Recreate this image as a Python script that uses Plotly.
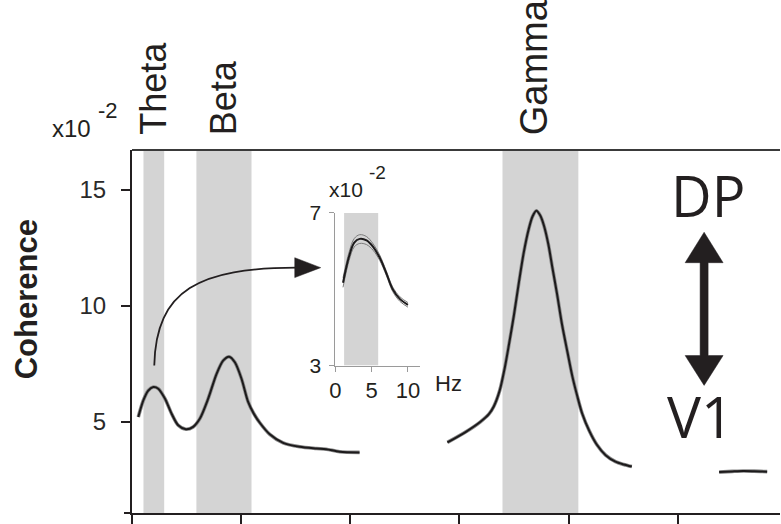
import plotly.graph_objects as go

# ---------------- data ----------------
# main coherence spectrum (x10^-2), three segments (line-noise bands removed)
seg1_hz = [1.15, 2.07, 2.98, 3.9, 4.81, 6.04, 7.26, 8.47, 9.88, 11.2, 12.44, 13.96, 15.5, 16.7,
           17.8, 18.85, 20.07, 21.28, 22.3, 23.42, 25.25, 27.7, 30.74, 33.8, 35.6, 38.06, 41.7]
seg1_coh = [5.2, 5.91, 6.34, 6.49, 6.42, 5.99, 5.34, 4.84, 4.67, 4.77, 5.13, 5.99, 7.06, 7.63,
            7.8, 7.56, 6.85, 5.85, 5.35, 4.95, 4.45, 4.08, 3.91, 3.84, 3.81, 3.70, 3.67]

seg2_hz = [57.8, 61.2, 63.8, 65.4, 66.3, 67.4, 68.3, 69.1, 70.0, 70.9, 71.8, 72.7, 73.4, 74.1,
           74.8, 75.5, 76.3, 77.0, 77.9, 78.8, 79.8, 80.7, 81.6, 82.5, 83.8, 85.2, 86.8, 88.6,
           90.1, 91.6]
seg2_coh = [4.10, 4.56, 4.98, 5.32, 5.65, 6.35, 7.30, 8.35, 9.60, 11.00, 12.30, 13.30, 13.85,
            14.10, 13.90, 13.45, 12.65, 11.70, 10.50, 9.20, 8.00, 6.95, 6.10, 5.35, 4.60, 4.00,
            3.55, 3.27, 3.15, 3.06]

seg3_hz = [107.6, 110.0, 112.0, 114.0, 116.4]
seg3_coh = [2.82, 2.85, 2.87, 2.86, 2.84]

# frequency bands (Hz)
band_names = ["Theta", "Beta", "Gamma"]
band_lo = [2.1, 11.8, 67.9]
band_hi = [5.9, 21.9, 81.8]
band_label_hz = [3.9, 16.8, 73.7]
band_label_size = [36, 36, 38]

# inset (theta zoom)
inset_hz = [1.05, 1.9, 2.6, 3.35, 4.3, 5.2, 6.1, 7.0, 7.9, 8.9, 10.0]
inset_mean = [5.17, 5.87, 6.22, 6.32, 6.28, 6.11, 5.83, 5.43, 5.00, 4.74, 4.59]
inset_upper = [5.30, 5.98, 6.33, 6.43, 6.38, 6.19, 5.90, 5.49, 5.06, 4.80, 4.65]
inset_lower = [5.05, 5.76, 6.11, 6.20, 6.17, 6.02, 5.76, 5.37, 4.94, 4.68, 4.53]
inset_band = [1.2, 5.9]

x_ticks = [0, 20, 40, 60, 80, 100]
y_ticks = [5, 10, 15]
inset_x_ticks = [0, 5, 10]
inset_y_ticks = [3, 7]

# ---------------- layout helpers ----------------
W, H = 781, 524
L, R, T, B = 132, 0, 150, 9
PW, PH = W - L - R, H - T - B
BOT = H - B


def px(x):
    return (x - L) / PW


def py(y):
    return (BOT - y) / PH


DARK = "#231f20"
FONT = "Liberation Sans, Arial, sans-serif"

fig = go.Figure()

# main curve: soft grey underlay + dark line
for hz, coh in [(seg1_hz, seg1_coh), (seg2_hz, seg2_coh), (seg3_hz, seg3_coh)]:
    fig.add_trace(go.Scatter(x=hz, y=coh, mode="lines", line=dict(color="#8a8a8a", width=3.6, shape="spline", smoothing=0.8),
                             hoverinfo="skip", showlegend=False))
    fig.add_trace(go.Scatter(x=hz, y=coh, mode="lines", line=dict(color="#1c1a1b", width=2, shape="spline", smoothing=0.8),
                             showlegend=False))

# inset curves
for vals, col, wd in [(inset_upper, "#7a7a7a", 1), (inset_lower, "#7a7a7a", 1), (inset_mean, "#1c1a1b", 2)]:
    fig.add_trace(go.Scatter(x=inset_hz, y=vals, mode="lines", xaxis="x2", yaxis="y2",
                             line=dict(color=col, width=wd, shape="spline"), showlegend=False))

shapes = []
for lo, hi in zip(band_lo, band_hi):
    shapes.append(dict(type="rect", xref="x", yref="paper", x0=lo, x1=hi, y0=0, y1=1,
                       fillcolor="#d4d4d4", line=dict(width=0), layer="below"))
shapes.append(dict(type="rect", xref="x2", yref="y2", x0=inset_band[0], x1=inset_band[1],
                   y0=inset_y_ticks[0], y1=inset_y_ticks[1],
                   fillcolor="#d4d4d4", line=dict(width=0), layer="below"))
# top border
shapes.append(dict(type="line", xref="paper", yref="paper", x0=0, x1=1, y0=1, y1=1,
                   line=dict(color="#3a3a3a", width=2)))
# x-axis extension left of y-axis
shapes.append(dict(type="line", xref="paper", yref="paper", x0=px(124), x1=0, y0=0, y1=0,
                   line=dict(color=DARK, width=2)))

# curved arrow to inset
p0, c1, c2, p1 = (154.3, 366.7), (156, 290), (200, 268.5), (297, 268.3)
path = "M {} {} C {} {}, {} {}, {} {}".format(px(p0[0]), py(p0[1]), px(c1[0]), py(c1[1]),
                                              px(c2[0]), py(c2[1]), px(p1[0]), py(p1[1]))
shapes.append(dict(type="path", xref="paper", yref="paper", path=path,
                   line=dict(color=DARK, width=1.8)))
head = "M {} {} L {} {} L {} {} Z".format(px(295), py(258.3), px(295), py(278.3), px(321), py(268.3))
shapes.append(dict(type="path", xref="paper", yref="paper", path=head,
                   fillcolor=DARK, line=dict(color=DARK, width=0.5)))

# double arrow DP <-> V1
ax_c, hw, sw = 705, 19, 4
pts = [(ax_c, 232.7), (ax_c + hw, 263.3), (ax_c + sw, 263.3), (ax_c + sw, 356.7), (ax_c + hw, 356.7),
       (ax_c, 386.7), (ax_c - hw, 356.7), (ax_c - sw, 356.7), (ax_c - sw, 263.3), (ax_c - hw, 263.3)]
dpath = "M " + " L ".join("{} {}".format(px(a), py(b)) for a, b in pts) + " Z"
shapes.append(dict(type="path", xref="paper", yref="paper", path=dpath,
                   fillcolor=DARK, line=dict(color=DARK, width=0.5)))

ann = []


def text(t, x, y, size, xanchor="center", yanchor="middle", angle=0, family=FONT, color=DARK, xref="paper"):
    ann.append(dict(text=t, x=x, y=y, xref=xref, yref="paper", showarrow=False, xanchor=xanchor,
                    yanchor=yanchor, textangle=angle, font=dict(family=family, size=size, color=color)))


text("<b>Coherence</b>", px(26), py(300), 31, angle=-90)
text("x10", px(93), py(128), 24, xanchor="right")
text("-2", px(96), py(110), 22, xanchor="left")
for name, hz, sz in zip(band_names, band_label_hz, band_label_size):
    text(name, hz, py(137), sz, yanchor="bottom", angle=-90, xref="x")
text("DP", px(709), py(195), 56, family="Open Sans, sans-serif")
text("V1", px(701.5), py(417), 57, family="Open Sans, sans-serif")
text("x10", px(365), py(190), 21, xanchor="right")
text("-2", px(367), py(173), 19, xanchor="left")
text("Hz", px(449), py(385), 22)

fig.update_layout(
    width=W, height=H,
    margin=dict(l=L, r=R, t=T, b=B, pad=0),
    paper_bgcolor="white", plot_bgcolor="rgba(0,0,0,0)",
    showlegend=False,
    shapes=shapes, annotations=ann,
    xaxis=dict(range=[0, PW / 5.465], showline=True, linecolor=DARK, linewidth=2, ticks="outside",
               ticklen=9, tickwidth=2, tickcolor=DARK, tickvals=x_ticks, showticklabels=False,
               showgrid=False, zeroline=False),
    yaxis=dict(range=[1.055, 16.72], showline=True, linecolor=DARK, linewidth=2, ticks="outside",
               ticklen=9, tickwidth=2, tickcolor=DARK, tickvals=y_ticks,
               tickfont=dict(family=FONT, size=24, color="#2a2a2a"), ticklabelstandoff=10,
               showgrid=False, zeroline=False),
    xaxis2=dict(domain=[px(335.7), px(420)], anchor="y2", range=[0, 11.6], showline=True,
                linecolor="#9a9a9a", linewidth=1, ticks="outside", ticklen=5, tickcolor="#9a9a9a",
                tickvals=inset_x_ticks, tickfont=dict(family=FONT, size=22, color=DARK),
                showgrid=False, zeroline=False),
    yaxis2=dict(domain=[py(366.7), py(213.3)], anchor="x2", range=[3, 7], showline=True,
                linecolor="#9a9a9a", linewidth=1, ticks="outside", ticklen=5, tickcolor="#9a9a9a",
                tickvals=inset_y_ticks, tickfont=dict(family=FONT, size=21, color=DARK),
                ticklabelstandoff=4, showgrid=False, zeroline=False),
)

fig.write_html("out.html", config={"displayModeBar": False},
               post_script="document.body.style.margin='0';")
